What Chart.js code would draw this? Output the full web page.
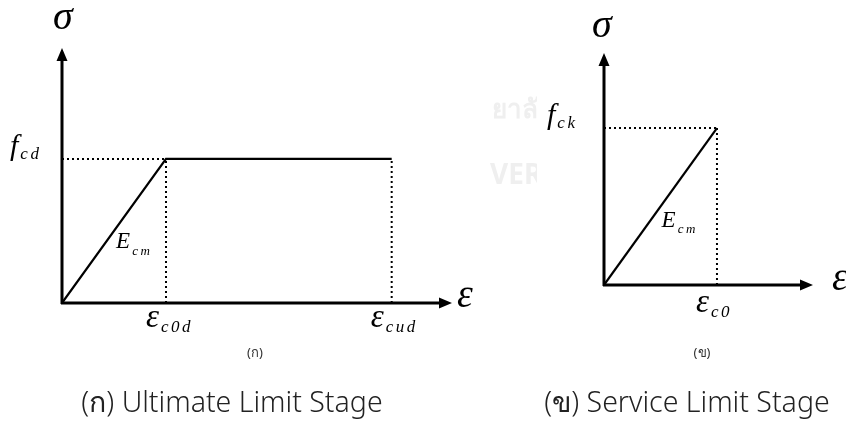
<!DOCTYPE html>
<html lang="th">
<head>
    <meta charset="UTF-8">
    <title>Stress-strain diagrams</title>
    <script src="https://cdn.jsdelivr.net/npm/chart.js"></script>
    <style>
        html, body { margin: 0; padding: 0; background: #fff; }
        .page { position: relative; width: 846px; height: 421px; overflow: hidden; }
        #leftBox { position: absolute; left: 0; top: 0; width: 490px; height: 421px; }
        #rightBox { position: absolute; left: 490px; top: 0; width: 356px; height: 421px; }
    </style>
</head>
<body>
<div class="page">
    <div id="leftBox"><canvas id="ulsChart"></canvas></div>
    <div id="rightBox"><canvas id="slsChart"></canvas></div>
</div>
<script>
    // Ultimate limit stage: elastic branch then plateau (strain, stress)
    const ulsStrain = [0, 1.0, 3.17];
    const ulsStress = [0, 1.0, 1.0];
    // Service limit stage: linear branch only
    const slsStrain = [0, 1.0];
    const slsStress = [0, 1.0];

    const ulsCaption = '(ก) Ultimate Limit Stage';
    const slsCaption = '(ข) Service Limit Stage';

    const mathFont = '"Liberation Serif", "DejaVu Serif", serif';
    const textFont = '"Noto Sans", "DejaVu Sans", sans-serif';

    function pts(xs, ys) {
        return xs.map((x, i) => ({ x: x, y: ys[i] }));
    }

    function dotted(data) {
        return {
            data: data, showLine: true, pointRadius: 0,
            borderColor: '#000', borderWidth: 2, borderDash: [2, 3], borderCapStyle: 'butt'
        };
    }

    // italic symbol with spaced italic subscript
    function symbol(ctx, x, y, main, size, sub, subSize, subDrop) {
        ctx.save();
        ctx.fillStyle = '#000';
        ctx.textBaseline = 'alphabetic';
        ctx.textAlign = 'left';
        ctx.font = 'italic ' + size + 'px ' + mathFont;
        ctx.fillText(main, x, y);
        const w = ctx.measureText(main).width;
        if (sub) {
            ctx.font = 'italic ' + subSize + 'px ' + mathFont;
            ctx.letterSpacing = '2.5px';
            ctx.fillText(sub, x + w + 2, y + subDrop);
        }
        ctx.restore();
    }

    function arrowAxes(chart) {
        const ctx = chart.ctx, a = chart.chartArea;
        const x0 = chart.scales.x.getPixelForValue(0);
        const y0 = chart.scales.y.getPixelForValue(0);
        ctx.save();
        ctx.strokeStyle = '#000';
        ctx.fillStyle = '#000';
        ctx.lineWidth = 3;
        ctx.beginPath();
        ctx.moveTo(x0, y0 + 1);
        ctx.lineTo(x0, a.top + 10);
        ctx.moveTo(x0 - 1, y0);
        ctx.lineTo(a.right - 10, y0);
        ctx.stroke();
        ctx.beginPath();
        ctx.moveTo(x0, a.top);
        ctx.lineTo(x0 - 5.5, a.top + 13);
        ctx.lineTo(x0 + 5.5, a.top + 13);
        ctx.closePath();
        ctx.moveTo(a.right, y0);
        ctx.lineTo(a.right - 13, y0 - 5.5);
        ctx.lineTo(a.right - 13, y0 + 5.5);
        ctx.closePath();
        ctx.fill();
        ctx.restore();
    }

    function centered(ctx, text, x, y, font, color) {
        ctx.save();
        ctx.font = font;
        ctx.fillStyle = color || '#000';
        ctx.textAlign = 'center';
        ctx.textBaseline = 'middle';
        ctx.fillText(text, x, y);
        ctx.restore();
    }

    function makeChart(id, datasets, xMax, yMax, padding, decorate) {
        return new Chart(document.getElementById(id), {
            type: 'scatter',
            data: { datasets: datasets },
            options: {
                responsive: true,
                maintainAspectRatio: false,
                animation: false,
                layout: { padding: padding },
                plugins: { legend: { display: false }, tooltip: { enabled: false } },
                scales: {
                    x: { type: 'linear', min: 0, max: xMax, display: false },
                    y: { type: 'linear', min: 0, max: yMax, display: false }
                }
            },
            plugins: [{
                id: 'diagram',
                beforeDatasetsDraw(chart) { arrowAxes(chart); },
                afterDraw(chart) { decorate(chart); }
            }]
        });
    }

    // (ก) design curve
    const epsC0d = ulsStrain[1], epsCud = ulsStrain[2], fcd = ulsStress[1];
    makeChart('ulsChart', [
        {
            data: pts(ulsStrain, ulsStress), showLine: true, pointRadius: 0,
            borderColor: '#000', borderWidth: 2.2
        },
        dotted([{ x: 0, y: fcd }, { x: epsC0d, y: fcd }]),
        dotted([{ x: epsC0d, y: 0 }, { x: epsC0d, y: fcd }]),
        dotted([{ x: epsCud, y: 0 }, { x: epsCud, y: fcd }])
    ], 3.75, 1.77, { left: 62, top: 48, right: 38, bottom: 118 }, function (chart) {
        const ctx = chart.ctx, a = chart.chartArea;
        const sx = chart.scales.x, sy = chart.scales.y;
        const x0 = sx.getPixelForValue(0), y0 = sy.getPixelForValue(0);
        symbol(ctx, x0 - 9, a.top - 19, 'σ', 40);
        symbol(ctx, x0 - 52, sy.getPixelForValue(fcd) - 4, 'f', 30, 'cd', 17, 4);
        symbol(ctx, sx.getPixelForValue(0.52), sy.getPixelForValue(0.40) + 3, 'E', 23, 'cm', 13, 7);
        symbol(ctx, a.right + 5, y0 + 4, 'ε', 40);
        symbol(ctx, sx.getPixelForValue(epsC0d) - 20, y0 + 24, 'ε', 33, 'c0d', 17, 5);
        symbol(ctx, sx.getPixelForValue(epsCud) - 21, y0 + 24, 'ε', 33, 'cud', 17, 5);
        centered(ctx, '(ก)', 255, 353, '13px ' + textFont, '#333');
        centered(ctx, ulsCaption, 232, 404, '300 28.5px ' + textFont, '#222');
    });

    // (ข) service curve
    const epsC0 = slsStrain[1], fck = slsStress[1];
    makeChart('slsChart', [
        {
            data: pts(slsStrain, slsStress), showLine: true, pointRadius: 0,
            borderColor: '#000', borderWidth: 2.2
        },
        dotted([{ x: 0, y: fck }, { x: epsC0, y: fck }]),
        dotted([{ x: epsC0, y: 0 }, { x: epsC0, y: fck }])
    ], 1.85, 1.478, { left: 114, top: 53, right: 33, bottom: 136 }, function (chart) {
        const ctx = chart.ctx, a = chart.chartArea;
        const sx = chart.scales.x, sy = chart.scales.y;
        const x0 = sx.getPixelForValue(0), y0 = sy.getPixelForValue(0);
        // faint watermark strip on the left edge
        ctx.save();
        ctx.beginPath();
        ctx.rect(0, 0, 47, 200);
        ctx.clip();
        ctx.fillStyle = '#efefef';
        ctx.font = 'bold 28px ' + textFont;
        ctx.fillText('VERSITY', 0, 184);
        ctx.font = 'bold 26px ' + textFont;
        ctx.fillText('ยาลัย', 2, 118);
        ctx.restore();
        symbol(ctx, x0 - 12, a.top - 16, 'σ', 40);
        symbol(ctx, x0 - 57, sy.getPixelForValue(fck) - 4, 'f', 30, 'ck', 17, 4);
        symbol(ctx, sx.getPixelForValue(0.51), sy.getPixelForValue(0.38) + 2, 'E', 23, 'cm', 13, 6);
        symbol(ctx, a.right + 19, y0 + 5, 'ε', 40);
        symbol(ctx, sx.getPixelForValue(epsC0) - 21, y0 + 27, 'ε', 33, 'c0', 17, 5);
        centered(ctx, '(ข)', 212, 353, '13px ' + textFont, '#333');
        centered(ctx, slsCaption, 197, 404, '300 28.5px ' + textFont, '#222');
    });
</script>
</body>
</html>
